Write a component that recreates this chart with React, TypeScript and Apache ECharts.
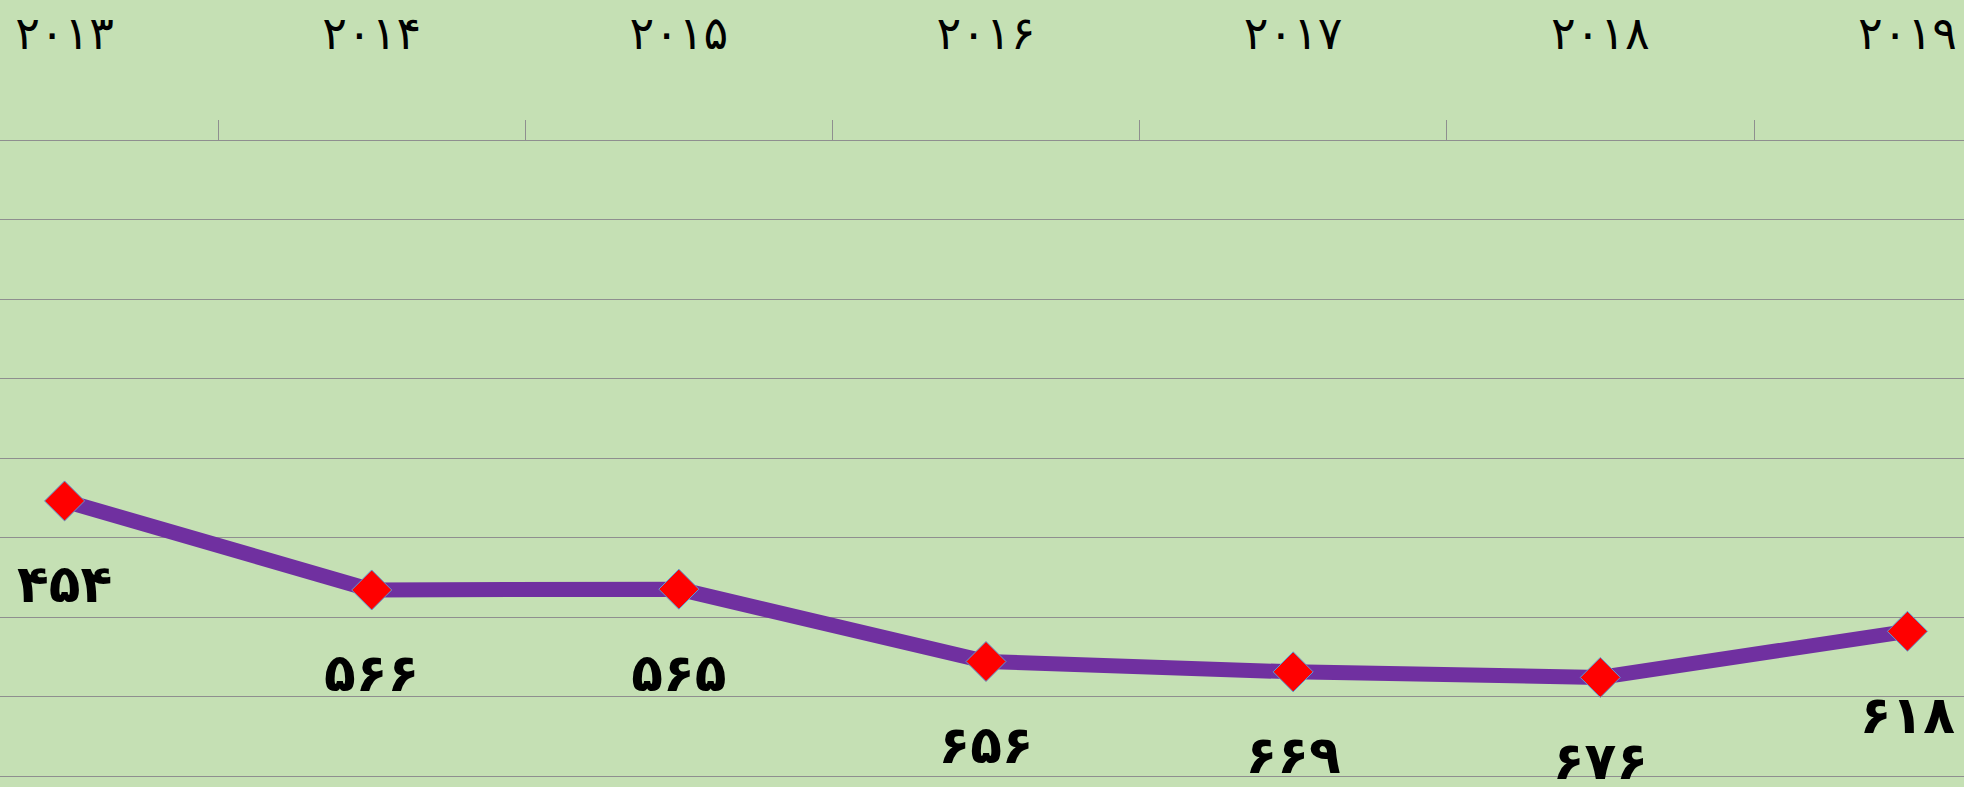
import React, { useEffect, useRef } from 'react';
import * as echarts from 'echarts';

// Data
const years: string[] = ['۲۰۱۳', '۲۰۱۴', '۲۰۱۵', '۲۰۱۶', '۲۰۱۷', '۲۰۱۸', '۲۰۱۹'];
const values: number[] = [454, 566, 565, 656, 669, 676, 618];
const yMin = 0;
const yMax = 800;
const yStep = 100;

const faDigits = '۰۱۲۳۴۵۶۷۸۹';
const toFa = (n: number | string) => String(n).replace(/\d/g, (d) => faDigits[Number(d)]);

const FONT = '"DejaVu Sans", sans-serif';

export default function App() {
  const ref = useRef<HTMLDivElement>(null);

  useEffect(() => {
    if (!ref.current) return;
    const chart = echarts.init(ref.current, undefined, { renderer: 'svg' });
    chart.setOption({
      animation: false,
      backgroundColor: '#C5E0B4',
      grid: { left: 0, right: 0, top: 140, bottom: 11 },
      xAxis: {
        type: 'category',
        position: 'top',
        data: years,
        boundaryGap: true,
        axisLine: { show: true, lineStyle: { color: '#8f8f8f', width: 1 } },
        axisTick: { show: true, length: 20, lineStyle: { color: '#8f8f8f', width: 1 } },
        axisLabel: {
          color: '#000',
          fontFamily: FONT,
          fontSize: 46,
          margin: 84,
        },
        splitLine: { show: false },
      },
      yAxis: {
        type: 'value',
        inverse: true,
        min: yMin,
        max: yMax,
        interval: yStep,
        axisLine: { show: false },
        axisTick: { show: false },
        axisLabel: { show: false },
        splitLine: { show: true, lineStyle: { color: '#8f8f8f', width: 1 } },
      },
      series: [
        {
          type: 'line',
          data: values,
          lineStyle: { color: '#7030A0', width: 15 },
          symbol: 'diamond',
          symbolSize: 40,
          itemStyle: { color: '#FF0000', borderColor: '#5B9BD5', borderWidth: 1 },
          label: {
            show: true,
            position: 'bottom',
            distance: 37,
            color: '#000',
            fontFamily: FONT,
            fontWeight: 'bold',
            fontSize: 52,
            formatter: (p: any) => toFa(p.value),
          },
        },
      ],
    });
    return () => chart.dispose();
  }, []);

  return (
    <div
      style={{
        position: 'fixed',
        left: 0,
        top: 0,
        width: 1964,
        height: 787,
        overflow: 'hidden',
        background: '#C5E0B4',
      }}
    >
      <div
        ref={ref}
        style={{ position: 'absolute', left: -89, top: 0, width: 2150, height: 787 }}
      />
    </div>
  );
}
